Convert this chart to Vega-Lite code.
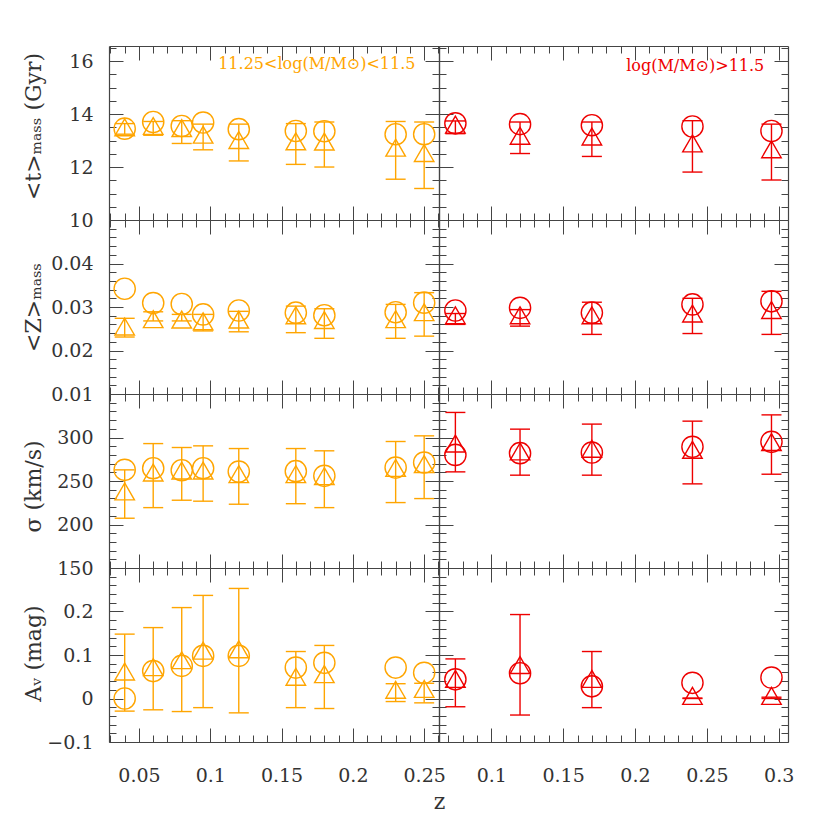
{
"$schema":"https://vega.github.io/schema/vega-lite/v6.json",
"padding":{"left":21,"top":45,"right":5,"bottom":5},
"background":"white",
"spacing":0,
"bounds":"flush",
"align":"each",
"columns":2,
"datasets":{
"mid":[
{"z":0.04,"tc":13.45,"tt":13.5,"tlo":13.24,"thi":13.64,"Zc":0.0342,"Zt":0.0255,"Zlo":0.0231,"Zhi":0.0274,"sc":262.8,"st":238,"slo":207.2,"shi":262.8,"ac":0.0,"at":0.062,"alo":-0.029,"ahi":0.148},
{"z":0.06,"tc":13.7,"tt":13.55,"tlo":13.2,"thi":13.72,"Zc":0.0309,"Zt":0.0272,"Zlo":0.0268,"Zhi":0.0289,"sc":264.7,"st":259.7,"slo":219.4,"shi":293,"ac":0.063,"at":0.072,"alo":-0.026,"ahi":0.163},
{"z":0.08,"tc":13.55,"tt":13.47,"tlo":12.89,"thi":13.75,"Zc":0.0307,"Zt":0.0271,"Zlo":0.0268,"Zhi":0.0283,"sc":262.4,"st":262,"slo":227.9,"shi":288.5,"ac":0.075,"at":0.088,"alo":-0.03,"ahi":0.209},
{"z":0.095,"tc":13.68,"tt":13.22,"tlo":12.65,"thi":13.62,"Zc":0.0283,"Zt":0.0267,"Zlo":0.0245,"Zhi":0.0283,"sc":264.7,"st":262,"slo":226.8,"shi":290.4,"ac":0.098,"at":0.11,"alo":-0.021,"ahi":0.237},
{"z":0.12,"tc":13.43,"tt":13.02,"tlo":12.23,"thi":13.62,"Zc":0.0292,"Zt":0.0271,"Zlo":0.0243,"Zhi":0.029,"sc":260.8,"st":257.8,"slo":223.3,"shi":287.3,"ac":0.098,"at":0.113,"alo":-0.033,"ahi":0.253},
{"z":0.16,"tc":13.36,"tt":12.97,"tlo":12.1,"thi":13.64,"Zc":0.0287,"Zt":0.0281,"Zlo":0.0241,"Zhi":0.0302,"sc":261.3,"st":257.8,"slo":223.9,"shi":287.3,"ac":0.071,"at":0.05,"alo":-0.021,"ahi":0.108},
{"z":0.18,"tc":13.35,"tt":12.96,"tlo":12.0,"thi":13.7,"Zc":0.0281,"Zt":0.027,"Zlo":0.0228,"Zhi":0.0296,"sc":255.9,"st":255.5,"slo":219.4,"shi":284.7,"ac":0.082,"at":0.056,"alo":-0.023,"ahi":0.122},
{"z":0.23,"tc":13.24,"tt":12.73,"tlo":11.54,"thi":13.72,"Zc":0.0288,"Zt":0.0272,"Zlo":0.0228,"Zhi":0.0306,"sc":265.4,"st":265,"slo":225.2,"shi":295.4,"ac":0.071,"at":0.02,"alo":-0.007,"ahi":0.034},
{"z":0.25,"tc":13.24,"tt":12.53,"tlo":11.19,"thi":13.7,"Zc":0.031,"Zt":0.0288,"Zlo":0.0233,"Zhi":0.0333,"sc":271.2,"st":269.4,"slo":229.8,"shi":301.9,"ac":0.059,"at":0.022,"alo":-0.01,"ahi":0.035}
],
"high":[
{"z":0.075,"tc":13.65,"tt":13.6,"tlo":13.26,"thi":13.74,"Zc":0.0292,"Zt":0.0281,"Zlo":0.026,"Zhi":0.0285,"sc":280,"st":293,"slo":260.5,"shi":328.8,"ac":0.044,"at":0.045,"alo":-0.019,"ahi":0.091},
{"z":0.12,"tc":13.62,"tt":13.18,"tlo":12.51,"thi":13.7,"Zc":0.0298,"Zt":0.0281,"Zlo":0.0256,"Zhi":0.0294,"sc":282,"st":284,"slo":256.7,"shi":309.6,"ac":0.058,"at":0.077,"alo":-0.038,"ahi":0.193},
{"z":0.17,"tc":13.58,"tt":13.15,"tlo":12.4,"thi":13.7,"Zc":0.0287,"Zt":0.0281,"Zlo":0.0237,"Zhi":0.0311,"sc":282.7,"st":287,"slo":256.7,"shi":315.4,"ac":0.028,"at":0.045,"alo":-0.021,"ahi":0.108},
{"z":0.24,"tc":13.53,"tt":12.89,"tlo":11.81,"thi":13.75,"Zc":0.0306,"Zt":0.0285,"Zlo":0.0239,"Zhi":0.032,"sc":289.3,"st":285.8,"slo":246.7,"shi":318.8,"ac":0.036,"at":0.006,"alo":0.0,"ahi":0.001},
{"z":0.295,"tc":13.36,"tt":12.67,"tlo":11.51,"thi":13.62,"Zc":0.0313,"Zt":0.0293,"Zlo":0.0237,"Zhi":0.0336,"sc":295,"st":294.7,"slo":257.8,"shi":326,"ac":0.048,"at":0.006,"alo":0.0,"ahi":0.003}
]
},
"concat":[
{"width":330,"height":174,"data":{"name":"mid"},"resolve":{"axis":{"x":"independent","y":"independent"}},
"layer":[
{"mark":{"type":"rule","color":"#FFA500","strokeWidth":1.4},"encoding":{
"x":{"field":"z","type":"quantitative","scale":{"domain":[0.029,0.2604],"nice":false,"zero":false},"axis":{"orient":"bottom","values":[0.05,0.1,0.15,0.2,0.25],"tickSize":-14,"labels":false,"title":null}},
"y":{"field":"tlo","type":"quantitative","scale":{"domain":[10,16.57],"nice":false,"zero":false},"axis":{"orient":"left","values":[10,12,14,16],"tickSize":-14,"labels":false,"title":null}},
"y2":{"field":"thi"}}},
{"mark":{"type":"tick","orient":"horizontal","color":"#FFA500","size":20,"thickness":1.4,"opacity":1},"encoding":{
"x":{"field":"z","type":"quantitative","scale":{"domain":[0.029,0.2604],"nice":false,"zero":false},"axis":{"orient":"top","values":[0.05,0.1,0.15,0.2,0.25],"tickSize":-14,"labels":false,"title":null}},
"y":{"field":"tlo","type":"quantitative","scale":{"domain":[10,16.57],"nice":false,"zero":false},"axis":{"orient":"right","values":[10,12,14,16],"tickSize":-14,"labels":false,"title":null}}}},
{"mark":{"type":"tick","orient":"horizontal","color":"#FFA500","size":20,"thickness":1.4,"opacity":1},"encoding":{
"x":{"field":"z","type":"quantitative","scale":{"domain":[0.029,0.2604],"nice":false,"zero":false},"axis":{"orient":"bottom","values":[0.03,0.04,0.06,0.07,0.08,0.09,0.11,0.12,0.13,0.14,0.16,0.17,0.18,0.19,0.21,0.22,0.23,0.24,0.26],"tickSize":-7,"labels":false,"title":null,"domain":false}},
"y":{"field":"thi","type":"quantitative","scale":{"domain":[10,16.57],"nice":false,"zero":false},"axis":{"orient":"left","values":[10.5,11,11.5,12.5,13,13.5,14.5,15,15.5,16.5],"tickSize":-7,"labels":false,"title":null,"domain":false}}}},
{"mark":{"type":"point","shape":"triangle-up","filled":false,"size":380,"color":"#FFA500","strokeWidth":1.4,"opacity":1},"encoding":{
"x":{"field":"z","type":"quantitative","scale":{"domain":[0.029,0.2604],"nice":false,"zero":false},"axis":{"orient":"top","values":[0.03,0.04,0.06,0.07,0.08,0.09,0.11,0.12,0.13,0.14,0.16,0.17,0.18,0.19,0.21,0.22,0.23,0.24,0.26],"tickSize":-7,"labels":false,"title":null,"domain":false}},
"y":{"field":"tt","type":"quantitative","scale":{"domain":[10,16.57],"nice":false,"zero":false},"axis":{"orient":"right","values":[10.5,11,11.5,12.5,13,13.5,14.5,15,15.5,16.5],"tickSize":-7,"labels":false,"title":null,"domain":false}}}},
{"mark":{"type":"point","shape":"circle","filled":false,"size":450,"color":"#FFA500","strokeWidth":1.4,"opacity":1},"encoding":{
"x":{"field":"z","type":"quantitative","scale":{"domain":[0.029,0.2604],"nice":false,"zero":false},"axis":null},
"y":{"field":"tc","type":"quantitative","scale":{"domain":[10,16.57],"nice":false,"zero":false},"axis":{"orient":"left","values":[10,12,14,16],"format":"d","ticks":false,"domain":false,"labelPadding":16,"title":"<t>ₘₐₛₛ  (Gyr)","titleX":-76,"titleY":80,"titleAngle":-90,"titleAlign":"center","titleBaseline":"middle"}}}},
{"data":{"values":[{"label":"11.25<log(M/M⊙)<11.5"}]},"mark":{"type":"text","align":"right","baseline":"middle","color":"#FFA500","fontSize":16,"font":"DejaVu Serif"},"encoding":{
"x":{"datum":0.2439,"type":"quantitative","scale":{"domain":[0.029,0.2604],"nice":false,"zero":false},"axis":null},
"y":{"datum":15.9,"type":"quantitative","scale":{"domain":[10,16.57],"nice":false,"zero":false},"axis":null},
"text":{"field":"label"}}}
]},
{"width":349,"height":174,"data":{"name":"high"},"resolve":{"axis":{"x":"independent","y":"independent"}},
"layer":[
{"mark":{"type":"rule","color":"#EE0000","strokeWidth":1.4},"encoding":{
"x":{"field":"z","type":"quantitative","scale":{"domain":[0.0636,0.3065],"nice":false,"zero":false},"axis":{"orient":"bottom","values":[0.1,0.15,0.2,0.25,0.3],"tickSize":-14,"labels":false,"title":null}},
"y":{"field":"tlo","type":"quantitative","scale":{"domain":[10,16.57],"nice":false,"zero":false},"axis":{"orient":"left","values":[10,12,14,16],"tickSize":-14,"labels":false,"title":null}},
"y2":{"field":"thi"}}},
{"mark":{"type":"tick","orient":"horizontal","color":"#EE0000","size":20,"thickness":1.4,"opacity":1},"encoding":{
"x":{"field":"z","type":"quantitative","scale":{"domain":[0.0636,0.3065],"nice":false,"zero":false},"axis":{"orient":"top","values":[0.1,0.15,0.2,0.25,0.3],"tickSize":-14,"labels":false,"title":null}},
"y":{"field":"tlo","type":"quantitative","scale":{"domain":[10,16.57],"nice":false,"zero":false},"axis":{"orient":"right","values":[10,12,14,16],"tickSize":-14,"labels":false,"title":null}}}},
{"mark":{"type":"tick","orient":"horizontal","color":"#EE0000","size":20,"thickness":1.4,"opacity":1},"encoding":{
"x":{"field":"z","type":"quantitative","scale":{"domain":[0.0636,0.3065],"nice":false,"zero":false},"axis":{"orient":"bottom","values":[0.07,0.08,0.09,0.11,0.12,0.13,0.14,0.16,0.17,0.18,0.19,0.21,0.22,0.23,0.24,0.26,0.27,0.28,0.29],"tickSize":-7,"labels":false,"title":null,"domain":false}},
"y":{"field":"thi","type":"quantitative","scale":{"domain":[10,16.57],"nice":false,"zero":false},"axis":{"orient":"left","values":[10.5,11,11.5,12.5,13,13.5,14.5,15,15.5,16.5],"tickSize":-7,"labels":false,"title":null,"domain":false}}}},
{"mark":{"type":"point","shape":"triangle-up","filled":false,"size":380,"color":"#EE0000","strokeWidth":1.4,"opacity":1},"encoding":{
"x":{"field":"z","type":"quantitative","scale":{"domain":[0.0636,0.3065],"nice":false,"zero":false},"axis":{"orient":"top","values":[0.07,0.08,0.09,0.11,0.12,0.13,0.14,0.16,0.17,0.18,0.19,0.21,0.22,0.23,0.24,0.26,0.27,0.28,0.29],"tickSize":-7,"labels":false,"title":null,"domain":false}},
"y":{"field":"tt","type":"quantitative","scale":{"domain":[10,16.57],"nice":false,"zero":false},"axis":{"orient":"right","values":[10.5,11,11.5,12.5,13,13.5,14.5,15,15.5,16.5],"tickSize":-7,"labels":false,"title":null,"domain":false}}}},
{"mark":{"type":"point","shape":"circle","filled":false,"size":450,"color":"#EE0000","strokeWidth":1.4,"opacity":1},"encoding":{
"x":{"field":"z","type":"quantitative","scale":{"domain":[0.0636,0.3065],"nice":false,"zero":false},"axis":null},
"y":{"field":"tc","type":"quantitative","scale":{"domain":[10,16.57],"nice":false,"zero":false},"axis":null}}},
{"data":{"values":[{"label":"log(M/M⊙)>11.5"}]},"mark":{"type":"text","align":"right","baseline":"middle","color":"#EE0000","fontSize":16,"font":"DejaVu Serif"},"encoding":{
"x":{"datum":0.29,"type":"quantitative","scale":{"domain":[0.0636,0.3065],"nice":false,"zero":false},"axis":null},
"y":{"datum":15.8,"type":"quantitative","scale":{"domain":[10,16.57],"nice":false,"zero":false},"axis":null},
"text":{"field":"label"}}}
]},
{"width":330,"height":174,"data":{"name":"mid"},"resolve":{"axis":{"x":"independent","y":"independent"}},
"layer":[
{"mark":{"type":"rule","color":"#FFA500","strokeWidth":1.4},"encoding":{
"x":{"field":"z","type":"quantitative","scale":{"domain":[0.029,0.2604],"nice":false,"zero":false},"axis":{"orient":"bottom","values":[0.05,0.1,0.15,0.2,0.25],"tickSize":-14,"labels":false,"title":null}},
"y":{"field":"Zlo","type":"quantitative","scale":{"domain":[0.01,0.05],"nice":false,"zero":false},"axis":{"orient":"left","values":[0.01,0.02,0.03,0.04],"tickSize":-14,"labels":false,"title":null}},
"y2":{"field":"Zhi"}}},
{"mark":{"type":"tick","orient":"horizontal","color":"#FFA500","size":20,"thickness":1.4,"opacity":1},"encoding":{
"x":{"field":"z","type":"quantitative","scale":{"domain":[0.029,0.2604],"nice":false,"zero":false},"axis":{"orient":"top","values":[0.05,0.1,0.15,0.2,0.25],"tickSize":-14,"labels":false,"title":null}},
"y":{"field":"Zlo","type":"quantitative","scale":{"domain":[0.01,0.05],"nice":false,"zero":false},"axis":{"orient":"right","values":[0.01,0.02,0.03,0.04],"tickSize":-14,"labels":false,"title":null}}}},
{"mark":{"type":"tick","orient":"horizontal","color":"#FFA500","size":20,"thickness":1.4,"opacity":1},"encoding":{
"x":{"field":"z","type":"quantitative","scale":{"domain":[0.029,0.2604],"nice":false,"zero":false},"axis":{"orient":"bottom","values":[0.03,0.04,0.06,0.07,0.08,0.09,0.11,0.12,0.13,0.14,0.16,0.17,0.18,0.19,0.21,0.22,0.23,0.24,0.26],"tickSize":-7,"labels":false,"title":null,"domain":false}},
"y":{"field":"Zhi","type":"quantitative","scale":{"domain":[0.01,0.05],"nice":false,"zero":false},"axis":{"orient":"left","values":[0.012,0.014,0.016,0.018,0.022,0.024,0.026,0.028,0.032,0.034,0.036,0.038,0.042,0.044,0.046,0.048],"tickSize":-7,"labels":false,"title":null,"domain":false}}}},
{"mark":{"type":"point","shape":"triangle-up","filled":false,"size":380,"color":"#FFA500","strokeWidth":1.4,"opacity":1},"encoding":{
"x":{"field":"z","type":"quantitative","scale":{"domain":[0.029,0.2604],"nice":false,"zero":false},"axis":{"orient":"top","values":[0.03,0.04,0.06,0.07,0.08,0.09,0.11,0.12,0.13,0.14,0.16,0.17,0.18,0.19,0.21,0.22,0.23,0.24,0.26],"tickSize":-7,"labels":false,"title":null,"domain":false}},
"y":{"field":"Zt","type":"quantitative","scale":{"domain":[0.01,0.05],"nice":false,"zero":false},"axis":{"orient":"right","values":[0.012,0.014,0.016,0.018,0.022,0.024,0.026,0.028,0.032,0.034,0.036,0.038,0.042,0.044,0.046,0.048],"tickSize":-7,"labels":false,"title":null,"domain":false}}}},
{"mark":{"type":"point","shape":"circle","filled":false,"size":450,"color":"#FFA500","strokeWidth":1.4,"opacity":1},"encoding":{
"x":{"field":"z","type":"quantitative","scale":{"domain":[0.029,0.2604],"nice":false,"zero":false},"axis":null},
"y":{"field":"Zc","type":"quantitative","scale":{"domain":[0.01,0.05],"nice":false,"zero":false},"axis":{"orient":"left","values":[0.01,0.02,0.03,0.04],"format":".2f","ticks":false,"domain":false,"labelPadding":16,"title":"<Z>ₘₐₛₛ","titleX":-76,"titleY":87,"titleAngle":-90,"titleAlign":"center","titleBaseline":"middle"}}}}
]},
{"width":349,"height":174,"data":{"name":"high"},"resolve":{"axis":{"x":"independent","y":"independent"}},
"layer":[
{"mark":{"type":"rule","color":"#EE0000","strokeWidth":1.4},"encoding":{
"x":{"field":"z","type":"quantitative","scale":{"domain":[0.0636,0.3065],"nice":false,"zero":false},"axis":{"orient":"bottom","values":[0.1,0.15,0.2,0.25,0.3],"tickSize":-14,"labels":false,"title":null}},
"y":{"field":"Zlo","type":"quantitative","scale":{"domain":[0.01,0.05],"nice":false,"zero":false},"axis":{"orient":"left","values":[0.01,0.02,0.03,0.04],"tickSize":-14,"labels":false,"title":null}},
"y2":{"field":"Zhi"}}},
{"mark":{"type":"tick","orient":"horizontal","color":"#EE0000","size":20,"thickness":1.4,"opacity":1},"encoding":{
"x":{"field":"z","type":"quantitative","scale":{"domain":[0.0636,0.3065],"nice":false,"zero":false},"axis":{"orient":"top","values":[0.1,0.15,0.2,0.25,0.3],"tickSize":-14,"labels":false,"title":null}},
"y":{"field":"Zlo","type":"quantitative","scale":{"domain":[0.01,0.05],"nice":false,"zero":false},"axis":{"orient":"right","values":[0.01,0.02,0.03,0.04],"tickSize":-14,"labels":false,"title":null}}}},
{"mark":{"type":"tick","orient":"horizontal","color":"#EE0000","size":20,"thickness":1.4,"opacity":1},"encoding":{
"x":{"field":"z","type":"quantitative","scale":{"domain":[0.0636,0.3065],"nice":false,"zero":false},"axis":{"orient":"bottom","values":[0.07,0.08,0.09,0.11,0.12,0.13,0.14,0.16,0.17,0.18,0.19,0.21,0.22,0.23,0.24,0.26,0.27,0.28,0.29],"tickSize":-7,"labels":false,"title":null,"domain":false}},
"y":{"field":"Zhi","type":"quantitative","scale":{"domain":[0.01,0.05],"nice":false,"zero":false},"axis":{"orient":"left","values":[0.012,0.014,0.016,0.018,0.022,0.024,0.026,0.028,0.032,0.034,0.036,0.038,0.042,0.044,0.046,0.048],"tickSize":-7,"labels":false,"title":null,"domain":false}}}},
{"mark":{"type":"point","shape":"triangle-up","filled":false,"size":380,"color":"#EE0000","strokeWidth":1.4,"opacity":1},"encoding":{
"x":{"field":"z","type":"quantitative","scale":{"domain":[0.0636,0.3065],"nice":false,"zero":false},"axis":{"orient":"top","values":[0.07,0.08,0.09,0.11,0.12,0.13,0.14,0.16,0.17,0.18,0.19,0.21,0.22,0.23,0.24,0.26,0.27,0.28,0.29],"tickSize":-7,"labels":false,"title":null,"domain":false}},
"y":{"field":"Zt","type":"quantitative","scale":{"domain":[0.01,0.05],"nice":false,"zero":false},"axis":{"orient":"right","values":[0.012,0.014,0.016,0.018,0.022,0.024,0.026,0.028,0.032,0.034,0.036,0.038,0.042,0.044,0.046,0.048],"tickSize":-7,"labels":false,"title":null,"domain":false}}}},
{"mark":{"type":"point","shape":"circle","filled":false,"size":450,"color":"#EE0000","strokeWidth":1.4,"opacity":1},"encoding":{
"x":{"field":"z","type":"quantitative","scale":{"domain":[0.0636,0.3065],"nice":false,"zero":false},"axis":null},
"y":{"field":"Zc","type":"quantitative","scale":{"domain":[0.01,0.05],"nice":false,"zero":false},"axis":null}}}
]},
{"width":330,"height":174,"data":{"name":"mid"},"resolve":{"axis":{"x":"independent","y":"independent"}},
"layer":[
{"mark":{"type":"rule","color":"#FFA500","strokeWidth":1.4},"encoding":{
"x":{"field":"z","type":"quantitative","scale":{"domain":[0.029,0.2604],"nice":false,"zero":false},"axis":{"orient":"bottom","values":[0.05,0.1,0.15,0.2,0.25],"tickSize":-14,"labels":false,"title":null}},
"y":{"field":"slo","type":"quantitative","scale":{"domain":[150,350],"nice":false,"zero":false},"axis":{"orient":"left","values":[150,200,250,300],"tickSize":-14,"labels":false,"title":null}},
"y2":{"field":"shi"}}},
{"mark":{"type":"tick","orient":"horizontal","color":"#FFA500","size":20,"thickness":1.4,"opacity":1},"encoding":{
"x":{"field":"z","type":"quantitative","scale":{"domain":[0.029,0.2604],"nice":false,"zero":false},"axis":{"orient":"top","values":[0.05,0.1,0.15,0.2,0.25],"tickSize":-14,"labels":false,"title":null}},
"y":{"field":"slo","type":"quantitative","scale":{"domain":[150,350],"nice":false,"zero":false},"axis":{"orient":"right","values":[150,200,250,300],"tickSize":-14,"labels":false,"title":null}}}},
{"mark":{"type":"tick","orient":"horizontal","color":"#FFA500","size":20,"thickness":1.4,"opacity":1},"encoding":{
"x":{"field":"z","type":"quantitative","scale":{"domain":[0.029,0.2604],"nice":false,"zero":false},"axis":{"orient":"bottom","values":[0.03,0.04,0.06,0.07,0.08,0.09,0.11,0.12,0.13,0.14,0.16,0.17,0.18,0.19,0.21,0.22,0.23,0.24,0.26],"tickSize":-7,"labels":false,"title":null,"domain":false}},
"y":{"field":"shi","type":"quantitative","scale":{"domain":[150,350],"nice":false,"zero":false},"axis":{"orient":"left","values":[160,170,180,190,210,220,230,240,260,270,280,290,310,320,330,340],"tickSize":-7,"labels":false,"title":null,"domain":false}}}},
{"mark":{"type":"point","shape":"triangle-up","filled":false,"size":380,"color":"#FFA500","strokeWidth":1.4,"opacity":1},"encoding":{
"x":{"field":"z","type":"quantitative","scale":{"domain":[0.029,0.2604],"nice":false,"zero":false},"axis":{"orient":"top","values":[0.03,0.04,0.06,0.07,0.08,0.09,0.11,0.12,0.13,0.14,0.16,0.17,0.18,0.19,0.21,0.22,0.23,0.24,0.26],"tickSize":-7,"labels":false,"title":null,"domain":false}},
"y":{"field":"st","type":"quantitative","scale":{"domain":[150,350],"nice":false,"zero":false},"axis":{"orient":"right","values":[160,170,180,190,210,220,230,240,260,270,280,290,310,320,330,340],"tickSize":-7,"labels":false,"title":null,"domain":false}}}},
{"mark":{"type":"point","shape":"circle","filled":false,"size":450,"color":"#FFA500","strokeWidth":1.4,"opacity":1},"encoding":{
"x":{"field":"z","type":"quantitative","scale":{"domain":[0.029,0.2604],"nice":false,"zero":false},"axis":null},
"y":{"field":"sc","type":"quantitative","scale":{"domain":[150,350],"nice":false,"zero":false},"axis":{"orient":"left","values":[150,200,250,300],"format":"d","ticks":false,"domain":false,"labelPadding":16,"title":"σ  (km/s)","titleX":-76,"titleY":92,"titleAngle":-90,"titleAlign":"center","titleBaseline":"middle"}}}}
]},
{"width":349,"height":174,"data":{"name":"high"},"resolve":{"axis":{"x":"independent","y":"independent"}},
"layer":[
{"mark":{"type":"rule","color":"#EE0000","strokeWidth":1.4},"encoding":{
"x":{"field":"z","type":"quantitative","scale":{"domain":[0.0636,0.3065],"nice":false,"zero":false},"axis":{"orient":"bottom","values":[0.1,0.15,0.2,0.25,0.3],"tickSize":-14,"labels":false,"title":null}},
"y":{"field":"slo","type":"quantitative","scale":{"domain":[150,350],"nice":false,"zero":false},"axis":{"orient":"left","values":[150,200,250,300],"tickSize":-14,"labels":false,"title":null}},
"y2":{"field":"shi"}}},
{"mark":{"type":"tick","orient":"horizontal","color":"#EE0000","size":20,"thickness":1.4,"opacity":1},"encoding":{
"x":{"field":"z","type":"quantitative","scale":{"domain":[0.0636,0.3065],"nice":false,"zero":false},"axis":{"orient":"top","values":[0.1,0.15,0.2,0.25,0.3],"tickSize":-14,"labels":false,"title":null}},
"y":{"field":"slo","type":"quantitative","scale":{"domain":[150,350],"nice":false,"zero":false},"axis":{"orient":"right","values":[150,200,250,300],"tickSize":-14,"labels":false,"title":null}}}},
{"mark":{"type":"tick","orient":"horizontal","color":"#EE0000","size":20,"thickness":1.4,"opacity":1},"encoding":{
"x":{"field":"z","type":"quantitative","scale":{"domain":[0.0636,0.3065],"nice":false,"zero":false},"axis":{"orient":"bottom","values":[0.07,0.08,0.09,0.11,0.12,0.13,0.14,0.16,0.17,0.18,0.19,0.21,0.22,0.23,0.24,0.26,0.27,0.28,0.29],"tickSize":-7,"labels":false,"title":null,"domain":false}},
"y":{"field":"shi","type":"quantitative","scale":{"domain":[150,350],"nice":false,"zero":false},"axis":{"orient":"left","values":[160,170,180,190,210,220,230,240,260,270,280,290,310,320,330,340],"tickSize":-7,"labels":false,"title":null,"domain":false}}}},
{"mark":{"type":"point","shape":"triangle-up","filled":false,"size":380,"color":"#EE0000","strokeWidth":1.4,"opacity":1},"encoding":{
"x":{"field":"z","type":"quantitative","scale":{"domain":[0.0636,0.3065],"nice":false,"zero":false},"axis":{"orient":"top","values":[0.07,0.08,0.09,0.11,0.12,0.13,0.14,0.16,0.17,0.18,0.19,0.21,0.22,0.23,0.24,0.26,0.27,0.28,0.29],"tickSize":-7,"labels":false,"title":null,"domain":false}},
"y":{"field":"st","type":"quantitative","scale":{"domain":[150,350],"nice":false,"zero":false},"axis":{"orient":"right","values":[160,170,180,190,210,220,230,240,260,270,280,290,310,320,330,340],"tickSize":-7,"labels":false,"title":null,"domain":false}}}},
{"mark":{"type":"point","shape":"circle","filled":false,"size":450,"color":"#EE0000","strokeWidth":1.4,"opacity":1},"encoding":{
"x":{"field":"z","type":"quantitative","scale":{"domain":[0.0636,0.3065],"nice":false,"zero":false},"axis":null},
"y":{"field":"sc","type":"quantitative","scale":{"domain":[150,350],"nice":false,"zero":false},"axis":null}}}
]},
{"width":330,"height":174,"data":{"name":"mid"},"resolve":{"axis":{"x":"independent","y":"independent"}},
"layer":[
{"mark":{"type":"rule","color":"#FFA500","strokeWidth":1.4},"encoding":{
"x":{"field":"z","type":"quantitative","scale":{"domain":[0.029,0.2604],"nice":false,"zero":false},"axis":{"orient":"bottom","values":[0.05,0.1,0.15,0.2,0.25],"tickSize":-14,"labels":false,"title":null}},
"y":{"field":"alo","type":"quantitative","scale":{"domain":[-0.1,0.3],"nice":false,"zero":false},"axis":{"orient":"left","values":[-0.1,0,0.1,0.2],"tickSize":-14,"labels":false,"title":null}},
"y2":{"field":"ahi"}}},
{"mark":{"type":"tick","orient":"horizontal","color":"#FFA500","size":20,"thickness":1.4,"opacity":1},"encoding":{
"x":{"field":"z","type":"quantitative","scale":{"domain":[0.029,0.2604],"nice":false,"zero":false},"axis":{"orient":"top","values":[0.05,0.1,0.15,0.2,0.25],"tickSize":-14,"labels":false,"title":null}},
"y":{"field":"alo","type":"quantitative","scale":{"domain":[-0.1,0.3],"nice":false,"zero":false},"axis":{"orient":"right","values":[-0.1,0,0.1,0.2],"tickSize":-14,"labels":false,"title":null}}}},
{"mark":{"type":"tick","orient":"horizontal","color":"#FFA500","size":20,"thickness":1.4,"opacity":1},"encoding":{
"x":{"field":"z","type":"quantitative","scale":{"domain":[0.029,0.2604],"nice":false,"zero":false},"axis":{"orient":"bottom","values":[0.03,0.04,0.06,0.07,0.08,0.09,0.11,0.12,0.13,0.14,0.16,0.17,0.18,0.19,0.21,0.22,0.23,0.24,0.26],"tickSize":-7,"labels":false,"title":null,"domain":false}},
"y":{"field":"ahi","type":"quantitative","scale":{"domain":[-0.1,0.3],"nice":false,"zero":false},"axis":{"orient":"left","values":[-0.08,-0.06,-0.04,-0.02,0.02,0.04,0.06,0.08,0.12,0.14,0.16,0.18,0.22,0.24,0.26,0.28],"tickSize":-7,"labels":false,"title":null,"domain":false}}}},
{"mark":{"type":"point","shape":"triangle-up","filled":false,"size":380,"color":"#FFA500","strokeWidth":1.4,"opacity":1},"encoding":{
"x":{"field":"z","type":"quantitative","scale":{"domain":[0.029,0.2604],"nice":false,"zero":false},"axis":{"orient":"top","values":[0.03,0.04,0.06,0.07,0.08,0.09,0.11,0.12,0.13,0.14,0.16,0.17,0.18,0.19,0.21,0.22,0.23,0.24,0.26],"tickSize":-7,"labels":false,"title":null,"domain":false}},
"y":{"field":"at","type":"quantitative","scale":{"domain":[-0.1,0.3],"nice":false,"zero":false},"axis":{"orient":"right","values":[-0.08,-0.06,-0.04,-0.02,0.02,0.04,0.06,0.08,0.12,0.14,0.16,0.18,0.22,0.24,0.26,0.28],"tickSize":-7,"labels":false,"title":null,"domain":false}}}},
{"mark":{"type":"point","shape":"circle","filled":false,"size":450,"color":"#FFA500","strokeWidth":1.4,"opacity":1},"encoding":{
"x":{"field":"z","type":"quantitative","scale":{"domain":[0.029,0.2604],"nice":false,"zero":false},"axis":{"orient":"bottom","values":[0.05,0.1,0.15,0.2,0.25],"format":"~g","ticks":false,"domain":false,"labelPadding":24,"title":"z","titleX":330,"titleY":59,"titleAlign":"center","titleBaseline":"middle","titleAngle":0}},
"y":{"field":"ac","type":"quantitative","scale":{"domain":[-0.1,0.3],"nice":false,"zero":false},"axis":{"orient":"left","values":[-0.1,0,0.1,0.2],"format":"~g","ticks":false,"domain":false,"labelPadding":16,"title":"Aᵥ  (mag)","titleX":-76,"titleY":85,"titleAngle":-90,"titleAlign":"center","titleBaseline":"middle"}}}}
]},
{"width":349,"height":174,"data":{"name":"high"},"resolve":{"axis":{"x":"independent","y":"independent"}},
"layer":[
{"mark":{"type":"rule","color":"#EE0000","strokeWidth":1.4},"encoding":{
"x":{"field":"z","type":"quantitative","scale":{"domain":[0.0636,0.3065],"nice":false,"zero":false},"axis":{"orient":"bottom","values":[0.1,0.15,0.2,0.25,0.3],"tickSize":-14,"labels":false,"title":null}},
"y":{"field":"alo","type":"quantitative","scale":{"domain":[-0.1,0.3],"nice":false,"zero":false},"axis":{"orient":"left","values":[-0.1,0,0.1,0.2],"tickSize":-14,"labels":false,"title":null}},
"y2":{"field":"ahi"}}},
{"mark":{"type":"tick","orient":"horizontal","color":"#EE0000","size":20,"thickness":1.4,"opacity":1},"encoding":{
"x":{"field":"z","type":"quantitative","scale":{"domain":[0.0636,0.3065],"nice":false,"zero":false},"axis":{"orient":"top","values":[0.1,0.15,0.2,0.25,0.3],"tickSize":-14,"labels":false,"title":null}},
"y":{"field":"alo","type":"quantitative","scale":{"domain":[-0.1,0.3],"nice":false,"zero":false},"axis":{"orient":"right","values":[-0.1,0,0.1,0.2],"tickSize":-14,"labels":false,"title":null}}}},
{"mark":{"type":"tick","orient":"horizontal","color":"#EE0000","size":20,"thickness":1.4,"opacity":1},"encoding":{
"x":{"field":"z","type":"quantitative","scale":{"domain":[0.0636,0.3065],"nice":false,"zero":false},"axis":{"orient":"bottom","values":[0.07,0.08,0.09,0.11,0.12,0.13,0.14,0.16,0.17,0.18,0.19,0.21,0.22,0.23,0.24,0.26,0.27,0.28,0.29],"tickSize":-7,"labels":false,"title":null,"domain":false}},
"y":{"field":"ahi","type":"quantitative","scale":{"domain":[-0.1,0.3],"nice":false,"zero":false},"axis":{"orient":"left","values":[-0.08,-0.06,-0.04,-0.02,0.02,0.04,0.06,0.08,0.12,0.14,0.16,0.18,0.22,0.24,0.26,0.28],"tickSize":-7,"labels":false,"title":null,"domain":false}}}},
{"mark":{"type":"point","shape":"triangle-up","filled":false,"size":380,"color":"#EE0000","strokeWidth":1.4,"opacity":1},"encoding":{
"x":{"field":"z","type":"quantitative","scale":{"domain":[0.0636,0.3065],"nice":false,"zero":false},"axis":{"orient":"top","values":[0.07,0.08,0.09,0.11,0.12,0.13,0.14,0.16,0.17,0.18,0.19,0.21,0.22,0.23,0.24,0.26,0.27,0.28,0.29],"tickSize":-7,"labels":false,"title":null,"domain":false}},
"y":{"field":"at","type":"quantitative","scale":{"domain":[-0.1,0.3],"nice":false,"zero":false},"axis":{"orient":"right","values":[-0.08,-0.06,-0.04,-0.02,0.02,0.04,0.06,0.08,0.12,0.14,0.16,0.18,0.22,0.24,0.26,0.28],"tickSize":-7,"labels":false,"title":null,"domain":false}}}},
{"mark":{"type":"point","shape":"circle","filled":false,"size":450,"color":"#EE0000","strokeWidth":1.4,"opacity":1},"encoding":{
"x":{"field":"z","type":"quantitative","scale":{"domain":[0.0636,0.3065],"nice":false,"zero":false},"axis":{"orient":"bottom","values":[0.1,0.15,0.2,0.25,0.3],"format":"~g","ticks":false,"domain":false,"labelPadding":24,"title":null}},
"y":{"field":"ac","type":"quantitative","scale":{"domain":[-0.1,0.3],"nice":false,"zero":false},"axis":null}}}
]}
],
"config":{
"view":{"stroke":null},
"axis":{"grid":false,"domainColor":"#444","domainWidth":1.2,"tickColor":"#444","tickWidth":1,"labelFont":"DejaVu Serif","labelFontSize":19,"labelColor":"#333","titleFont":"DejaVu Serif","titleFontSize":22,"titleFontWeight":"normal","titleColor":"#333"}
}
}
